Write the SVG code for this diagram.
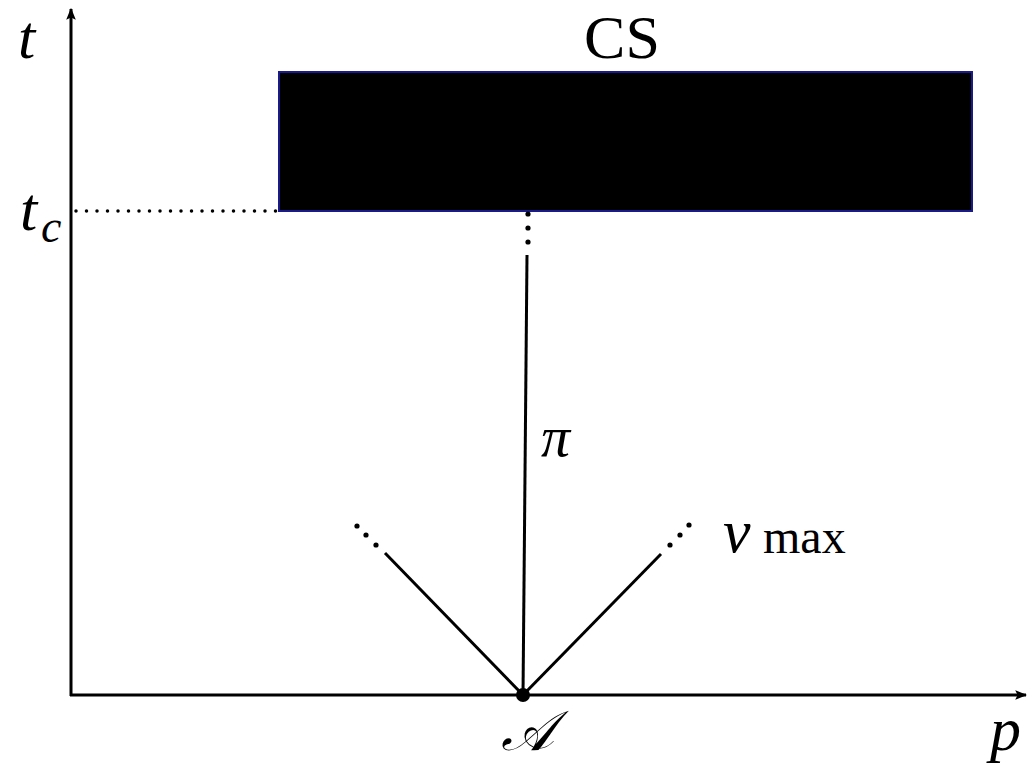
<svg xmlns="http://www.w3.org/2000/svg" width="1028" height="769" viewBox="0 0 1028 769">
<style>
.ax{stroke:#000;stroke-width:3;fill:none}
.ln{stroke:#000;stroke-width:3;fill:none}
.dot{fill:#000}
.it{font-family:"Liberation Serif","DejaVu Serif",serif;font-style:italic;fill:#000}
.rm{font-family:"Liberation Serif","DejaVu Serif",serif;fill:#000}
</style>
<defs>
<marker id="arr" viewBox="0 0 10 10" refX="9" refY="5" markerWidth="4" markerHeight="4" orient="auto" markerUnits="strokeWidth">
<path d="M0,1 L10,5 L0,9 L2,5 Z" fill="#000"/>
</marker>
</defs>
<rect width="1028" height="769" fill="#fff"/>
<g id="axes">
<line class="ax" x1="71" y1="696" x2="71" y2="9" marker-end="url(#arr)"/>
<line class="ax" x1="70" y1="695" x2="1026" y2="695" marker-end="url(#arr)"/>
<text class="it" x="18" y="58" font-size="62">t</text>
<text class="it" x="20" y="230" font-size="62">t</text>
<text class="it" x="41" y="242" font-size="46">c</text>
<text class="it" x="990" y="750" font-size="62">p</text>
</g>
<g id="cs">
<rect x="279" y="72" width="693" height="139" fill="#000" stroke="#1a1a8c" stroke-width="2"/>
<text class="rm" x="622" y="58" font-size="62" text-anchor="middle">CS</text>
</g>
<g id="A">
<circle cx="523" cy="695" r="7" class="dot"/>
<text class="it" x="527" y="750" font-size="56" text-anchor="middle" font-family="'DejaVu Serif','Liberation Serif',serif">𝒜</text>
</g>
<g id="connectors">
<line x1="76" y1="211" x2="277" y2="211" stroke="#000" stroke-width="3.5" stroke-linecap="round" stroke-dasharray="0,10.5"/>
<line class="ln" x1="523" y1="695" x2="527" y2="255"/>
<circle cx="528" cy="214" r="2.6" class="dot"/>
<circle cx="528" cy="228" r="2.6" class="dot"/>
<circle cx="528" cy="242" r="2.6" class="dot"/>
<line class="ln" x1="523" y1="695" x2="385" y2="553"/>
<circle cx="376" cy="545" r="2.6" class="dot"/>
<circle cx="366" cy="535" r="2.6" class="dot"/>
<circle cx="357" cy="526" r="2.6" class="dot"/>
<line class="ln" x1="523" y1="695" x2="661" y2="554"/>
<circle cx="670" cy="545" r="2.6" class="dot"/>
<circle cx="680" cy="535" r="2.6" class="dot"/>
<circle cx="689" cy="525" r="2.6" class="dot"/>
<text class="it" x="541" y="456" font-size="58">π</text>
<text class="it" x="723" y="552" font-size="62">v</text>
<text class="rm" x="763" y="553" font-size="48">max</text>
</g>
</svg>
